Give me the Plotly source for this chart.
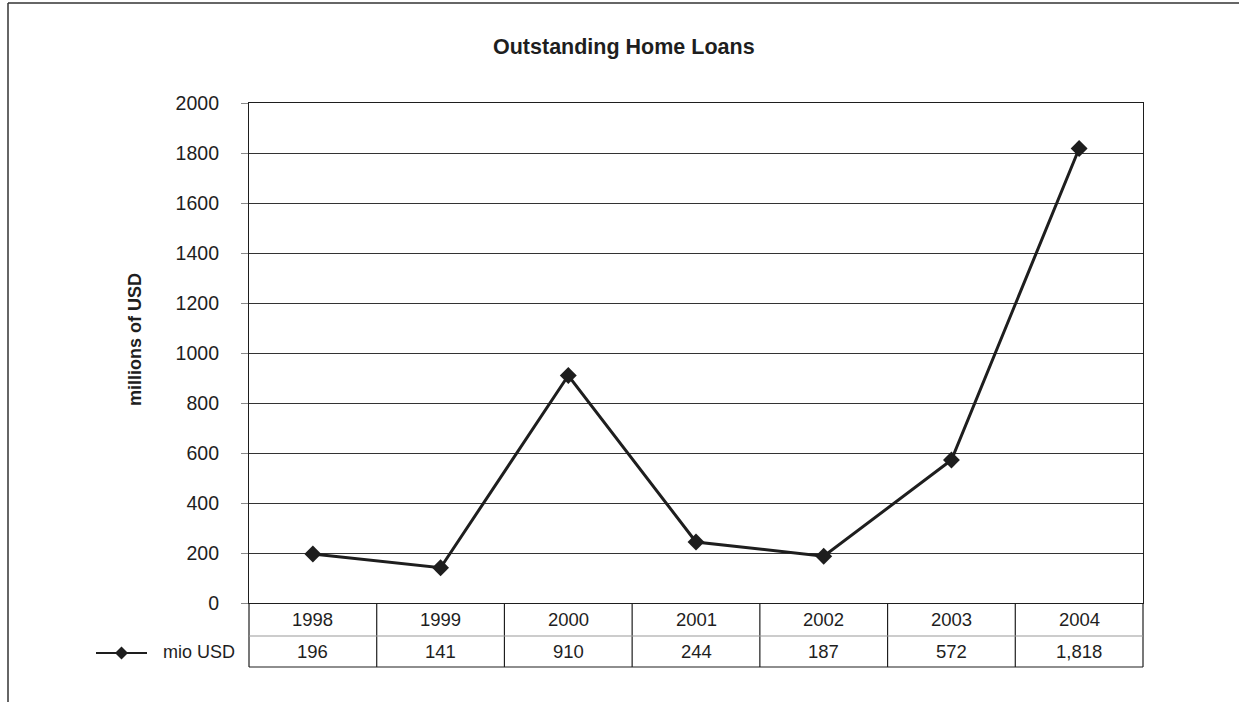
import plotly.graph_objects as go

# Outstanding home loans, millions of USD
years = ["1998", "1999", "2000", "2001", "2002", "2003", "2004"]
values = [196, 141, 910, 244, 187, 572, 1818]
value_labels = ["196", "141", "910", "244", "187", "572", "1,818"]
y_ticks = [0, 200, 400, 600, 800, 1000, 1200, 1400, 1600, 1800, 2000]

W, H = 1239, 702
L, R, T, B = 249, 96, 103, 99
PW, PH = W - L - R, H - T - B

FONT = "Liberation Sans, Arial, Helvetica, sans-serif"
INK = "#1e1e1e"


def px_x(p):
    return (p - L) / PW


def px_y(p):
    return (H - B - p) / PH


fig = go.Figure()
fig.add_trace(go.Scatter(
    x=list(range(len(years))), y=values, mode="lines+markers",
    line=dict(color=INK, width=3),
    marker=dict(symbol="diamond", size=13, color=INK),
    showlegend=False, cliponaxis=False,
))

shapes = []
n = len(years)
# data table under the plot
for k in range(n + 1):
    shapes.append(dict(type="line", xref="paper", yref="paper",
                       x0=k / n, x1=k / n, y0=0, y1=px_y(667),
                       line=dict(color=INK, width=1.2)))
shapes.append(dict(type="line", xref="paper", yref="paper",
                   x0=0, x1=1, y0=px_y(636), y1=px_y(636),
                   line=dict(color="#999999", width=1.2)))
shapes.append(dict(type="line", xref="paper", yref="paper",
                   x0=0, x1=1, y0=px_y(667), y1=px_y(667),
                   line=dict(color=INK, width=1.2)))

# legend key in the table row
lx0, lx1, ly = px_x(96), px_x(147), px_y(653)
shapes.append(dict(type="line", xref="paper", yref="paper",
                   x0=lx0, x1=lx1, y0=ly, y1=ly,
                   line=dict(color=INK, width=2)))
cx = px_x(121.5)
dx, dy = 6.5 / PW, 6.5 / PH
shapes.append(dict(type="path", xref="paper", yref="paper",
                   path=f"M {cx - dx} {ly} L {cx} {ly + dy} L {cx + dx} {ly} L {cx} {ly - dy} Z",
                   fillcolor=INK, line=dict(color=INK, width=0)))

# outer frame
shapes.append(dict(type="line", xref="paper", yref="paper",
                   x0=px_x(8), x1=px_x(8), y0=px_y(3), y1=px_y(702),
                   line=dict(color="#333333", width=1.5)))
shapes.append(dict(type="line", xref="paper", yref="paper",
                   x0=px_x(8), x1=px_x(1239), y0=px_y(3), y1=px_y(3),
                   line=dict(color="#333333", width=1.5)))


def label(x, y, text, size, xref="paper", xanchor="center", angle=0):
    return dict(x=x, xref=xref, y=y, yref="paper", text=text, showarrow=False,
                xanchor=xanchor, yanchor="middle", textangle=angle,
                font=dict(family=FONT, size=size, color=INK))


annotations = []
for i, (yr, lab) in enumerate(zip(years, value_labels)):
    annotations.append(label(i, px_y(619.5), yr, 18.5, xref="x"))
    annotations.append(label(i, px_y(651.5), lab, 18.5, xref="x"))
annotations.append(label(px_x(161), px_y(651.5), "mio USD", 18, xanchor="left"))
annotations.append(label(px_x(135), px_y(340), "<b>millions of USD</b>", 18, angle=-90))
annotations.append(label(px_x(624), px_y(47), "<b>Outstanding Home Loans</b>", 21.5))

fig.update_layout(
    width=W, height=H,
    margin=dict(l=L, r=R, t=T, b=B),
    paper_bgcolor="white", plot_bgcolor="white",
    shapes=shapes, annotations=annotations,
    xaxis=dict(range=[-0.5, n - 0.5], showgrid=False, showticklabels=False,
               ticks="", zeroline=False, showline=True, mirror=True,
               linecolor=INK, linewidth=1.2, fixedrange=True),
    yaxis=dict(range=[0, 2000], tickvals=y_ticks, ticks="outside", ticklen=7,
               tickcolor="#888888", tickwidth=1.2, ticklabelstandoff=18,
               tickfont=dict(family=FONT, size=19.5, color=INK),
               showgrid=True, gridcolor="#333333", gridwidth=1,
               zeroline=False, showline=True, mirror=True,
               linecolor=INK, linewidth=1.2, fixedrange=True),
)

fig.write_html("out.html")
